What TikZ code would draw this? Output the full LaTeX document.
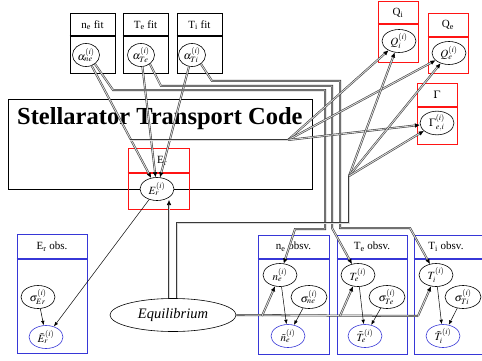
\documentclass[tikz,border=0pt]{standalone}
\usepackage{mathptmx}
\usepackage{fontspec}
\setmainfont{Liberation Serif}
\usetikzlibrary{arrows.meta,calc,shapes.geometric}
\definecolor{pred}{RGB}{255,20,20}
\definecolor{pblue}{RGB}{55,55,215}
\begin{document}
\begin{tikzpicture}[x=1pt,y=-1pt,
  plate/.style={draw=black, line width=0.8pt, inner sep=0pt},
  redplate/.style={plate, draw=pred},
  blueplate/.style={plate, draw=pblue},
  hline/.style={line width=1.6pt},
  hdr/.style={font=\fontsize{11}{12}\selectfont, inner sep=0pt},
  rv/.style={draw, ellipse, fill=white, line width=0.6pt, inner sep=0pt, minimum width=34, minimum height=23, font=\fontsize{11}{12}\selectfont},
  obsrv/.style={rv, draw=pblue},
  dbln/.style={draw=gray!45!black, double=gray!30, double distance=0.9pt, line width=0.55pt},
  dbl/.style={dbln, -{Latex[length=5pt,width=4.5pt,black]}},
  thinarr/.style={draw=black, line width=0.5pt, -{Latex[length=4.5pt,width=3.5pt]}}]
\useasboundingbox (0,0) rectangle (482,361);

% ---------- fit plates ----------
\node[plate, minimum width=45, minimum height=60] (nefit) at (92.5,43) {};
\node[plate, minimum width=45, minimum height=60] (tefit) at (145.5,43) {};
\node[plate, minimum width=45, minimum height=60] (tifit) at (199.5,43) {};
\draw[hline] (nefit.west |- 0,36) -- (nefit.east |- 0,36);
\draw[hline] (tefit.west |- 0,36) -- (tefit.east |- 0,36);
\draw[hline] (tifit.west |- 0,36) -- (tifit.east |- 0,36);
\node[hdr] (nefitl) at (92.5,25) {n\textsubscript{e} fit};
\node[hdr] (tefitl) at (145.5,25) {T\textsubscript{e} fit};
\node[hdr] (tifitl) at (199.5,25) {T\textsubscript{i} fit};

% ---------- output plates ----------
\node[redplate, minimum width=40, minimum height=61] (qiplate) at (398,31.5) {};
\draw[hline, pred] (qiplate.west |- 0,24) -- (qiplate.east |- 0,24);
\node[hdr] (qil) at (398,13) {Q\textsubscript{i}};
\node[redplate, minimum width=40, minimum height=60] (qeplate) at (448,43) {};
\draw[hline, pred] (qeplate.west |- 0,37) -- (qeplate.east |- 0,37);
\node[hdr] (qel) at (448,25) {Q\textsubscript{e}};
\node[redplate, minimum width=40, minimum height=61] (gplate) at (437,113.5) {};
\draw[hline, pred] (gplate.west |- 0,107) -- (gplate.east |- 0,107);
\node[hdr] (gl) at (437,95) {$\Gamma$};

% ---------- transport code ----------
\node[plate, minimum width=304, minimum height=90] (stc) at (160,144) {};
\node[anchor=base west, inner sep=0pt, font=\fontsize{24.5}{26}\selectfont\bfseries] (stcl) at (17,124) {Stellarator Transport Code};

% ---------- Er plate ----------
\node[redplate, minimum width=61, minimum height=61] (erplate) at (158.5,178.5) {};
\draw[hline, pred] (erplate.west |- 0,173) -- (erplate.east |- 0,173);
\node[hdr] (erl) at (162,161) {E\textsubscript{r}};

% ---------- observation plates ----------
\node[blueplate, minimum width=70, minimum height=119] (erobs) at (52,293.5) {};
\draw[hline, pblue] (erobs.west |- 0,259) -- (erobs.east |- 0,259);
\node[hdr] (erobsl) at (52,247) {E\textsubscript{r} obs.};
\node[blueplate, minimum width=71, minimum height=119] (neobs) at (293.5,294.5) {};
\draw[hline, pblue] (neobs.west |- 0,259) -- (neobs.east |- 0,259);
\node[hdr] (neobsl) at (293.5,247) {n\textsubscript{e} obsv.};
\node[blueplate, minimum width=70, minimum height=119] (teobs) at (372,294.5) {};
\draw[hline, pblue] (teobs.west |- 0,259) -- (teobs.east |- 0,259);
\node[hdr] (teobsl) at (372,247) {T\textsubscript{e} obsv.};
\node[blueplate, minimum width=70, minimum height=119] (tiobs) at (449,294.5) {};
\draw[hline, pblue] (tiobs.west |- 0,259) -- (tiobs.east |- 0,259);
\node[hdr] (tiobsl) at (446,247) {T\textsubscript{i} obsv.};

% ---------- random variables ----------
\node[rv, minimum width=27] (ane) at (86,55) {$\alpha_{ne}^{(i)}$};
\node[rv, minimum width=27] (ate) at (141,55) {$\alpha_{Te}^{(i)}$};
\node[rv, minimum width=27] (ati) at (192,55) {$\alpha_{Ti}^{(i)}$};
\node[rv] (qi) at (399,41) {$Q_i^{(i)}$};
\node[rv] (qe) at (449,53) {$Q_e^{(i)}$};
\node[rv] (gam) at (437,123) {$\Gamma_{e,i}^{(i)}$};
\node[rv] (er) at (157,189) {$E_r^{(i)}$};
\node[rv] (ser) at (38,297) {$\sigma_{Er}^{(i)}$};
\node[obsrv] (ter) at (46,337) {$\tilde{E}_r^{(i)}$};
\node[rv] (ne) at (280,275) {$n_e^{(i)}$};
\node[rv, minimum width=36] (sne) at (309,297) {$\sigma_{ne}^{(i)}$};
\node[obsrv] (tne) at (288,336) {$\tilde{n}_e^{(i)}$};
\node[rv] (te) at (358,275) {$T_e^{(i)}$};
\node[rv, minimum width=36] (ste) at (387,297) {$\sigma_{Te}^{(i)}$};
\node[obsrv] (tte) at (365,336) {$\tilde{T}_e^{(i)}$};
\node[rv] (ti) at (436,275) {$T_i^{(i)}$};
\node[rv, minimum width=36] (sti) at (463,297) {$\sigma_{Ti}^{(i)}$};
\node[obsrv] (tti) at (443,336) {$\tilde{T}_i^{(i)}$};
\node[rv, minimum width=126, minimum height=33, font=\fontsize{14.5}{16}\selectfont\itshape] (eq) at (173,315) {Equilibrium};

% ---------- junction points ----------
\coordinate (stcin) at (130,140);
\coordinate (stcout) at (288,140);
\coordinate (junc) at (349,176);
\coordinate (erin) at (169,200);

% ---------- double (deterministic) connectors ----------
\draw[dbl] (ane) -- (er);
\draw[dbl] (ate) -- (er);
\draw[dbl] (ati) -- (er);
\draw[dbl] (ane.-45) -- (113,90) -- (325,90) -- (325,229) -- (295,229) -- (ne);
\draw[dbl] (ate.-45) -- (161,86) -- (332,86) -- (332,228) -- (te);
\draw[dbl] (ati.-45) -- (212,81) -- (340,81) -- (340,228) -- (410,228) -- (ti);
\draw[dbl] (eq.north -| erin) -- (erin);
\draw[dbln] ($(eq.north)+(4,0)$) -- (177,223) -- (349,223) -- (junc);
\draw[dbln] (stcin) -- (stcout);
\draw[dbl] (stcout) -- (qi);
\draw[dbl] (stcout) -- (qe);
\draw[dbl] (stcout) -- (gam);
\draw[dbl] (junc) -- (qi);
\draw[dbl] (junc) -- (qe);
\draw[dbl] (junc) -- (gam);
\draw[dbln] (eq.east) -- (418,316);
\draw[dbl] (262,316) -- (ne);
\draw[dbl] (340,316) -- (te);
\draw[dbl] (418,316) -- (ti);

% ---------- probabilistic connectors ----------
\draw[thinarr] (er) -- (ter);
\draw[thinarr] (ser) -- (ter);
\draw[thinarr] (ne) -- (tne);
\draw[thinarr] (sne) -- (tne);
\draw[thinarr] (te) -- (tte);
\draw[thinarr] (ste) -- (tte);
\draw[thinarr] (ti) -- (tti);
\draw[thinarr] (sti) -- (tti);
\end{tikzpicture}
\end{document}
